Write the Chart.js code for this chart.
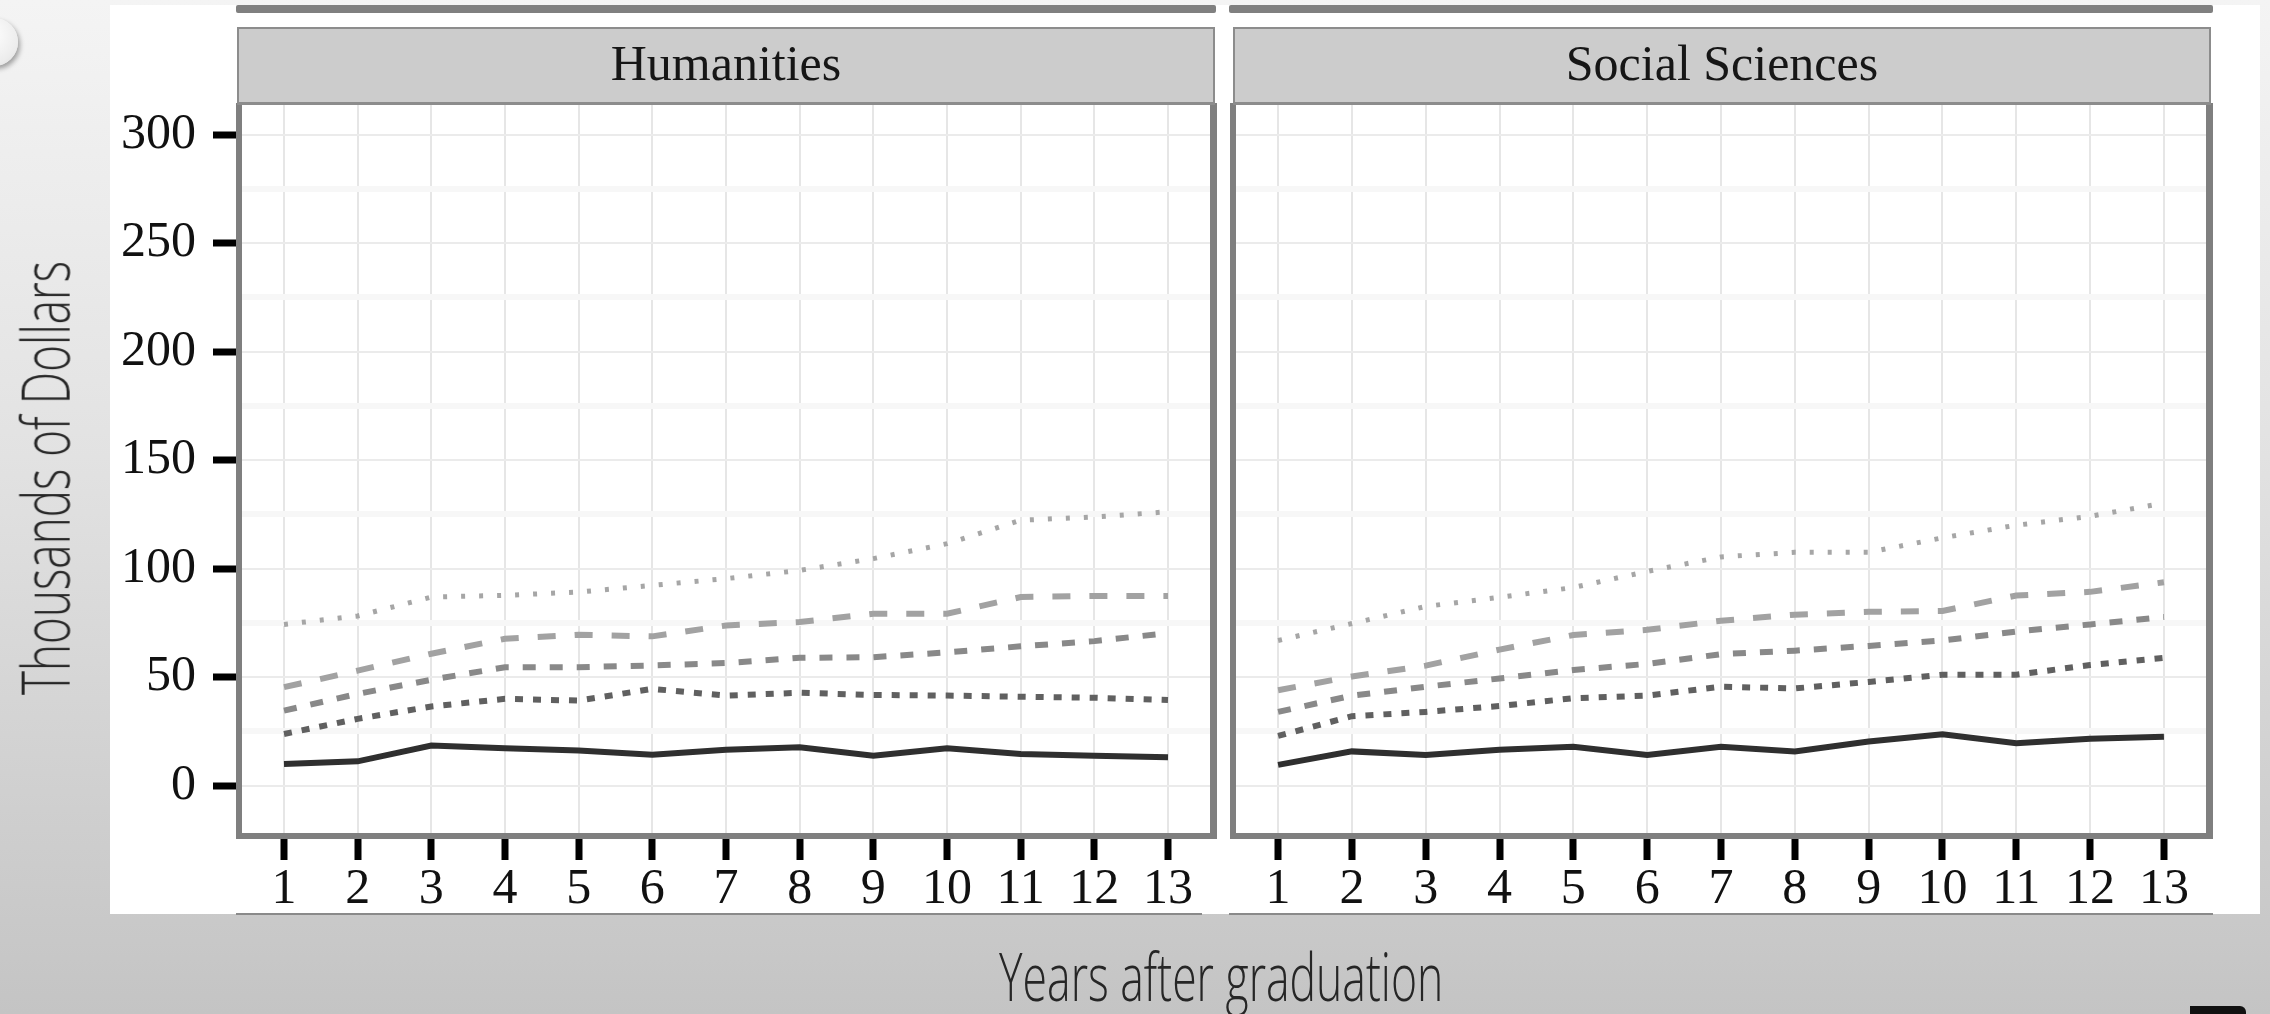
<!DOCTYPE html>
<html>
<head>
<meta charset="utf-8">
<script src="https://cdn.jsdelivr.net/npm/chart.js@4.4.0/dist/chart.umd.min.js"></script>
<style>
  html, body { margin: 0; padding: 0; }
  body {
    width: 2270px; height: 1014px; position: relative; overflow: hidden;
    background: linear-gradient(180deg, #f4f4f4 0%, #e2e2e2 45%, #c4c4c4 100%);
  }
  #sheet { position: absolute; left: 110px; top: 5px; width: 2150px; height: 909px; background: #fff; }
  .bar { position: absolute; top: 5px; height: 8px; background: #808080; border-radius: 2px; }
  .baseline { position: absolute; top: 913px; height: 2px; background: #8a8a8a; }
  .strip {
    position: absolute; top: 27px; height: 78px; box-sizing: border-box;
    background: #cccccc; border: 2px solid #8c8c8c; border-bottom-width: 3px;
    font: 50px "Liberation Serif", "DejaVu Serif", serif; color: #161616;
    text-align: center; line-height: 68px;
  }
  canvas { position: absolute; left: 0; top: 0; }
  .title {
    position: absolute; white-space: nowrap; display: inline-block;
    font-family: "Open Sans", "Lato", sans-serif; font-weight: 300; font-size: 66px;
    color: #262626; line-height: 1;
  }
  #knob { position: absolute; left: -30px; top: 18px; width: 48px; height: 48px; border-radius: 50%;
    background: radial-gradient(circle at 40% 35%, #ffffff 0%, #ececec 70%, #d4d4d4 100%);
    box-shadow: 2px 3px 5px rgba(0,0,0,0.35); }
  #corner { position: absolute; left: 2190px; top: 1006px; width: 56px; height: 10px; background: #111; border-top-right-radius: 6px; }
</style>
</head>
<body>
<div id="knob"></div>
<div id="sheet"></div>
<div class="bar" style="left:236px; width:980px;"></div>
<div class="bar" style="left:1229px; width:984px;"></div>
<div class="baseline" style="left:236px; width:966px;"></div>
<div class="baseline" style="left:1229px; width:984px;"></div>
<canvas id="humChart" width="2270" height="1014"></canvas>
<canvas id="socChart" width="2270" height="1014"></canvas>
<div class="strip" style="left:237px; width:978px;">Humanities</div>
<div class="strip" style="left:1233px; width:978px;">Social Sciences</div>
<div class="title" id="yTitle">Thousands of Dollars</div>
<div class="title" id="xTitle">Years after graduation</div>
<div id="corner"></div>
<script>
// --- data (thousands of dollars, by years after graduation) ---
const years = [1, 2, 3, 4, 5, 6, 7, 8, 9, 10, 11, 12, 13];
const yTicks = [0, 50, 100, 150, 200, 250, 300];
const yMinor = [25, 75, 125, 175, 225, 275];

const humP10 = [10, 11.2, 18.5, 17.2, 16.2, 14.3, 16.5, 17.7, 13.8, 17.2, 14.6, 13.8, 13.1];
const humP25 = [23.8, 30.8, 36.5, 40, 39.2, 44.6, 41.5, 42.8, 41.8, 41.5, 41, 40.5, 39.5];
const humP50 = [34.6, 42.3, 48.8, 54.6, 54.6, 55.4, 56.5, 58.9, 59.2, 61.4, 64.2, 66.6, 70.3];
const humP75 = [45.4, 53, 60.8, 67.7, 69.5, 68.8, 73.8, 75.4, 79.2, 79.2, 86.9, 87.4, 87.4];
const humP90 = [74.3, 78.2, 86.9, 87.7, 89.2, 92.3, 95.4, 99.2, 104.6, 111.5, 122.3, 123.8, 126.2];

const socP10 = [9.6, 15.8, 14.1, 16.6, 17.9, 14.1, 17.9, 15.8, 20.4, 23.7, 19.6, 21.6, 22.6];
const socP25 = [22.9, 32, 34, 36.7, 40.3, 41.5, 45.6, 44.8, 47.8, 51.1, 51.1, 55.6, 58.9];
const socP50 = [34, 41.5, 45.6, 49.4, 53.3, 56.1, 60.6, 62.2, 64.4, 66.9, 71, 74.3, 77.7];
const socP75 = [44, 50.3, 55.3, 62.7, 69.4, 71.8, 76, 78.8, 80.1, 80.5, 87.6, 89.3, 93.7];
const socP90 = [66.9, 74.7, 82.6, 86.8, 91.3, 98.7, 105.4, 107.5, 107.5, 114.2, 120, 124.1, 130.2];

// line looks, bottom series to top series
const lineColors = ['#2f2f2f', '#606060', '#898989', '#a2a2a2', '#a6a6a6'];
const lineWidths = [6, 6, 6, 6, 5];
const lineDashes = [[], [8, 10], [13, 14], [18, 19], [4, 14]];

const tickFont = { family: '"Liberation Serif", "DejaVu Serif", serif', size: 50 };

function makeSets(series) {
  return series.map((vals, i) => ({
    data: years.map((yr, j) => ({ x: yr, y: vals[j] })),
    borderColor: lineColors[i],
    borderWidth: lineWidths[i],
    borderDash: lineDashes[i],
    borderCapStyle: 'butt',
    borderJoinStyle: 'miter',
    pointRadius: 0,
    tension: 0,
    fill: false
  }));
}

// thick grey panel frame round the plot area
const panelFrame = {
  id: 'panelFrame',
  afterDraw(chart) {
    const { ctx, chartArea: a } = chart;
    ctx.save();
    ctx.fillStyle = '#7f7f7f';
    ctx.fillRect(a.left - 6, a.top - 2, 6, a.bottom - a.top + 8);
    ctx.fillRect(a.right, a.top - 2, 7, a.bottom - a.top + 8);
    ctx.fillRect(a.left - 6, a.bottom, a.right - a.left + 13, 6);
    ctx.restore();
  }
};

function makeChart(id, series, showY, pad) {
  return new Chart(document.getElementById(id), {
    type: 'line',
    data: { datasets: makeSets(series) },
    plugins: [panelFrame],
    options: {
      responsive: false,
      animation: false,
      layout: { padding: pad },
      plugins: { legend: { display: false }, tooltip: { enabled: false } },
      scales: {
        x: {
          type: 'linear', min: 0.43, max: 13.57,
          afterBuildTicks: s => { s.ticks = years.map(v => ({ value: v })); },
          afterFit: s => { s.height = 80; },
          border: { display: false },
          grid: { color: '#e6e6e6', lineWidth: 2, tickColor: '#000', tickWidth: 7, tickLength: 27 },
          ticks: { font: tickFont, color: '#111', padding: 0, autoSkip: false, maxRotation: 0 }
        },
        y: {
          type: 'linear', min: -21.8, max: 313.6,
          afterBuildTicks: s => {
            s.ticks = yTicks.concat(yMinor).sort((a, b) => a - b).map(v => ({ value: v }));
          },
          afterFit: s => { s.width = showY ? 140 : 0; },
          border: { display: false },
          grid: {
            color: c => yTicks.includes(c.tick.value) ? '#ebebeb' : '#f7f7f7',
            lineWidth: c => yTicks.includes(c.tick.value) ? 2 : 6,
            drawTicks: showY,
            tickColor: c => yTicks.includes(c.tick.value) ? '#000' : 'rgba(0,0,0,0)',
            tickWidth: 7, tickLength: 29
          },
          ticks: {
            display: showY, font: tickFont, color: '#111', padding: 17, autoSkip: false,
            callback: v => yTicks.includes(v) ? String(v) : ''
          }
        }
      }
    }
  });
}

makeChart('humChart', [humP10, humP25, humP50, humP75, humP90], true,
  { left: 102, right: 1060, top: 105, bottom: 101 });
makeChart('socChart', [socP10, socP25, socP50, socP75, socP90], false,
  { left: 1236, right: 64, top: 105, bottom: 101 });

// squeeze the axis titles to the narrow look of the original
function placeTitle(id, cx, cy, width, rotate) {
  const el = document.getElementById(id);
  const w = el.offsetWidth, h = el.offsetHeight;
  el.style.left = (cx - w / 2) + 'px';
  el.style.top = (cy - h / 2) + 'px';
  el.style.transform = (rotate ? 'rotate(-90deg) ' : '') + 'scaleX(' + (width / w) + ')';
}
placeTitle('xTitle', 1221, 975, 444, false);
placeTitle('yTitle', 43, 478, 434, true);
</script>
</body>
</html>
